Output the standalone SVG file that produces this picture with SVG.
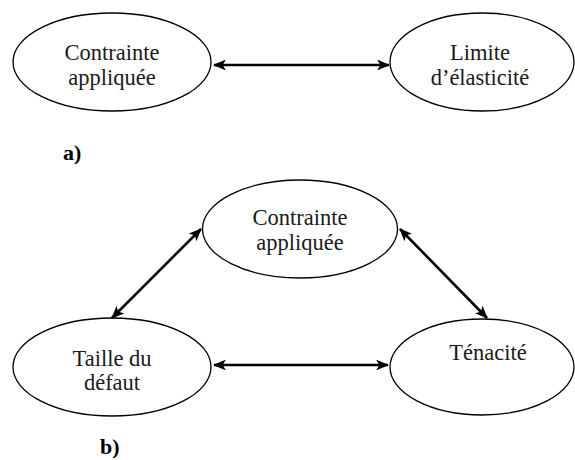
<svg xmlns="http://www.w3.org/2000/svg" width="575" height="460" viewBox="0 0 575 460">
<style>
.n{fill:#fff;stroke:#000;stroke-width:1.3}
.t{font-family:'Liberation Serif','Times New Roman','DejaVu Serif',serif;font-size:22.5px;text-anchor:middle;fill:#1a1a1a}
.l{font-family:'Liberation Serif','Times New Roman','DejaVu Serif',serif;font-size:22px;font-weight:bold;fill:#000}
.c{stroke:#000;stroke-width:2.6;fill:none;marker-start:url(#a);marker-end:url(#a)}
</style>
<defs>
<marker id="a" viewBox="0 0 12 10" refX="11" refY="5" markerWidth="5" markerHeight="4.2" orient="auto-start-reverse" markerUnits="strokeWidth">
<path d="M0,0 L12,5 L0,10 L3,5 Z" fill="#000"/>
</marker>
</defs>
<rect width="575" height="460" fill="#fff"/>
<g id="a-contrainte"><ellipse class="n" cx="112" cy="62" rx="99" ry="49"/><text class="t" x="112" y="60">Contrainte</text><text class="t" x="112" y="85">appliquée</text></g>
<g id="a-limite"><ellipse class="n" cx="482" cy="62" rx="92" ry="49"/><text class="t" x="480" y="60">Limite</text><text class="t" x="480" y="85">d’élasticité</text></g>
<g id="b-contrainte"><ellipse class="n" cx="300" cy="229" rx="97.5" ry="49"/><text class="t" x="300" y="225">Contrainte</text><text class="t" x="300" y="250">appliquée</text></g>
<g id="b-taille"><ellipse class="n" cx="112" cy="367" rx="99" ry="49"/><text class="t" x="112" y="366">Taille du</text><text class="t" x="112" y="390">défaut</text></g>
<g id="b-tenacite"><ellipse class="n" cx="482" cy="367" rx="92" ry="48"/><text class="t" x="488" y="360">Ténacité</text></g>
<g id="connectors">
<line class="c" x1="214" y1="65" x2="389" y2="65"/>
<line class="c" x1="214" y1="365" x2="388" y2="365"/>
<line class="c" x1="112" y1="318" x2="201" y2="229"/>
<line class="c" x1="400" y1="229" x2="487" y2="318"/>
</g>
<text class="l" x="63" y="160">a)</text>
<text class="l" x="100" y="454">b)</text>
</svg>
